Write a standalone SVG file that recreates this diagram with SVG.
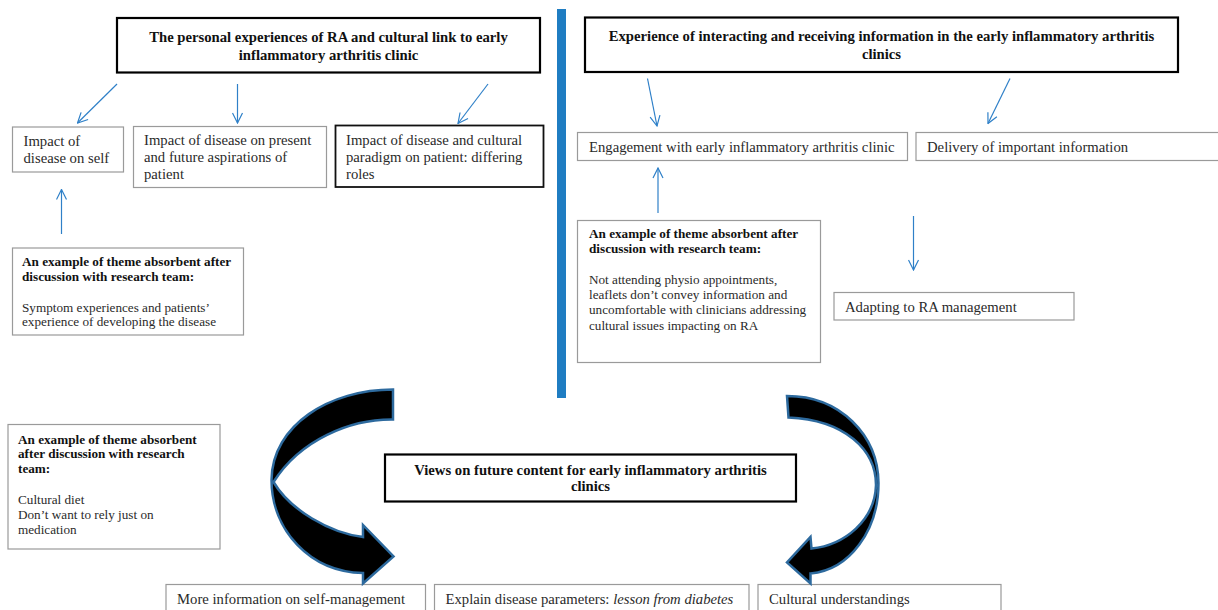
<svg xmlns="http://www.w3.org/2000/svg" width="1218" height="610" viewBox="0 0 1218 610">
<defs>
<style>
.t{font-family:"Liberation Serif","Times New Roman",serif;font-size:14.7px;fill:#2a2a2a}
.s{font-family:"Liberation Serif","Times New Roman",serif;font-size:13.2px;fill:#2a2a2a}
.b{font-weight:bold;fill:#111}
.title{fill:#fff;stroke:#000;stroke-width:2.2}
.box{fill:#fff;stroke:#9a9a9a;stroke-width:1.2}
.boxk{fill:#fff;stroke:#111;stroke-width:1.8}
.con{stroke:#2F80C8;stroke-width:1.2;fill:none;marker-end:url(#ah)}
.curve{fill:#000;stroke:#2D6A9E;stroke-width:2.5;stroke-linejoin:miter}
</style>
<marker id="ah" viewBox="0 0 12 12" refX="11" refY="6" markerWidth="12" markerHeight="12" markerUnits="userSpaceOnUse" orient="auto">
<path d="M1,1 L11,6 L1,11" fill="none" stroke="#2F80C8" stroke-width="1.2"/>
</marker>
</defs>
<rect width="1218" height="610" fill="#fff"/>

<rect id="divider" x="557" y="9" width="9" height="389" fill="#1F7DC2"/>

<g id="title-left">
<rect class="title" x="117" y="18" width="423" height="54.5"/>
<text class="t b" text-anchor="middle" x="328.5" y="42">The personal experiences of RA and cultural link to early</text>
<text class="t b" text-anchor="middle" x="328.5" y="60">inflammatory arthritis clinic</text>
</g>

<g id="title-right">
<rect class="title" x="585" y="17.5" width="593" height="54.5"/>
<text class="t b" text-anchor="middle" x="881.5" y="41">Experience of interacting and receiving information in the early inflammatory arthritis</text>
<text class="t b" text-anchor="middle" x="881.5" y="59">clinics</text>
</g>

<g id="impact-self">
<rect class="box" x="12.5" y="127" width="111" height="45"/>
<text class="t" x="23.5" y="146">Impact of</text>
<text class="t" x="23.5" y="163">disease on self</text>
</g>

<g id="impact-aspirations">
<rect class="box" x="133.5" y="126.5" width="193" height="61"/>
<text class="t" x="144" y="145">Impact of disease on present</text>
<text class="t" x="144" y="162">and future aspirations of</text>
<text class="t" x="144" y="179">patient</text>
</g>

<g id="impact-paradigm">
<rect class="boxk" x="335.5" y="125.5" width="208" height="61.5"/>
<text class="t" x="346" y="145">Impact of disease and cultural</text>
<text class="t" x="346" y="162">paradigm on patient: differing</text>
<text class="t" x="346" y="179">roles</text>
</g>

<g id="example-left">
<rect class="box" x="12.5" y="248" width="231" height="87"/>
<text class="s b" x="22" y="266">An example of theme absorbent after</text>
<text class="s b" x="22" y="280.5">discussion with research team:</text>
<text class="s" x="22" y="311.5">Symptom experiences and patients’</text>
<text class="s" x="22" y="326">experience of developing the disease</text>
</g>

<g id="engagement">
<rect class="box" x="577.5" y="132.5" width="330" height="28"/>
<text class="t" x="589" y="151.5">Engagement with early inflammatory arthritis clinic</text>
</g>

<g id="delivery">
<rect class="box" x="916" y="132.5" width="310" height="28"/>
<text class="t" x="927" y="151.5">Delivery of important information</text>
</g>

<g id="example-middle">
<rect class="box" x="577.5" y="220.5" width="243" height="142"/>
<text class="s b" x="589" y="237.5">An example of theme absorbent after</text>
<text class="s b" x="589" y="252.5">discussion with research team:</text>
<text class="s" x="589" y="284">Not attending physio appointments,</text>
<text class="s" x="589" y="299">leaflets don’t convey information and</text>
<text class="s" x="589" y="314">uncomfortable with clinicians addressing</text>
<text class="s" x="589" y="329.5">cultural issues impacting on RA</text>
</g>

<g id="adapting">
<rect class="box" x="834" y="292.5" width="240" height="27.5"/>
<text class="t" x="845" y="312">Adapting to RA management</text>
</g>

<g id="example-bottom">
<rect class="box" x="8" y="424.5" width="212" height="124.5"/>
<text class="s b" x="18" y="443.5">An example of theme absorbent</text>
<text class="s b" x="18" y="458">after discussion with research</text>
<text class="s b" x="18" y="472.5">team:</text>
<text class="s" x="18" y="503.5">Cultural diet</text>
<text class="s" x="18" y="518.5">Don’t want to rely just on</text>
<text class="s" x="18" y="533.5">medication</text>
</g>

<g id="title-bottom">
<rect class="title" x="385" y="454.5" width="411" height="47"/>
<text class="t b" text-anchor="middle" x="590.5" y="475">Views on future content for early inflammatory arthritis</text>
<text class="t b" text-anchor="middle" x="590.5" y="491">clinics</text>
</g>

<g id="self-management">
<rect class="box" x="166" y="584.5" width="259.5" height="40"/>
<text class="t" x="177" y="604">More information on self-management</text>
</g>

<g id="disease-parameters">
<rect class="box" x="434.5" y="584.5" width="314.5" height="40"/>
<text class="t" x="445.5" y="604">Explain disease parameters: <tspan font-style="italic">lesson from diabetes</tspan></text>
</g>

<g id="cultural-understandings">
<rect class="box" x="758" y="584.5" width="243" height="40"/>
<text class="t" x="769" y="604">Cultural understandings</text>
</g>

<g id="connectors">
<line class="con" x1="117" y1="84" x2="77.5" y2="123"/>
<line class="con" x1="237.5" y1="84" x2="237.5" y2="123"/>
<line class="con" x1="488" y1="84" x2="458" y2="123.5"/>
<line class="con" x1="61.5" y1="234" x2="61.5" y2="189.5"/>
<line class="con" x1="647.5" y1="78.5" x2="657" y2="126"/>
<line class="con" x1="1010" y1="78.5" x2="988" y2="123.5"/>
<line class="con" x1="658" y1="213" x2="658" y2="168"/>
<line class="con" x1="913.5" y1="216" x2="913.5" y2="270"/>
<path class="curve" d="M393,389.5 C330,389.5 272,425 271.5,480 C271.5,530 310,572 363,573 L363,583.5 L393.5,556.5 L363,525 L363,537 C330,533 290,510 273.5,482 C300,440 350,419 393,419.5 Z"/>
<path class="curve" d="M787,396 C840,396 878,435 878.5,483 C878.5,530 850,570 810.5,573.5 L810.5,583.5 L787,562.5 L810.5,537 L811.5,548.5 C845,545 875,520 876,485 C876,450 845,420 788.5,417.5 Z"/>
</g>
</svg>
